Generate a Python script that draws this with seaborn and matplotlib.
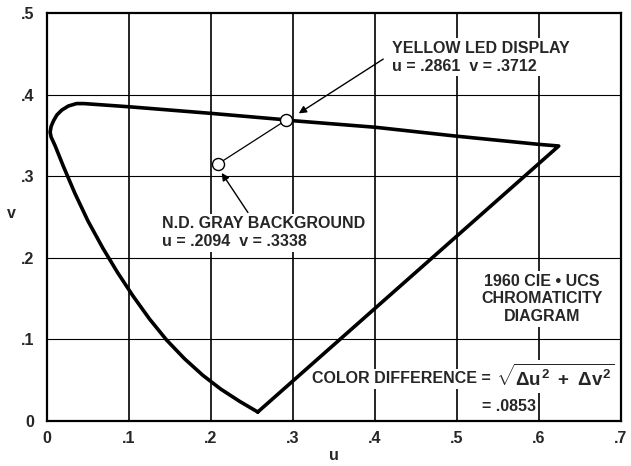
import numpy as np
import pandas as pd
import seaborn as sns
import matplotlib.pyplot as plt

# spectral locus + line of purples (u, v)
locus_u = [0.257, 0.235, 0.212, 0.190, 0.168, 0.146, 0.125, 0.105, 0.086, 0.068,
           0.050, 0.034, 0.020, 0.010, 0.005, 0.0038, 0.005, 0.008, 0.012, 0.018,
           0.026, 0.036, 0.045, 0.101, 0.200, 0.292, 0.300, 0.400, 0.500, 0.600,
           0.624, 0.257]
locus_v = [0.011, 0.024, 0.039, 0.056, 0.076, 0.099, 0.125, 0.153, 0.182, 0.212,
           0.245, 0.279, 0.312, 0.337, 0.348, 0.354, 0.361, 0.368, 0.375, 0.381,
           0.386, 0.389, 0.389, 0.385, 0.377, 0.369, 0.368, 0.360, 0.349, 0.339,
           0.337, 0.011]

# the two marked points (where they sit on the drawing)
point_names = ["N.D. GRAY BACKGROUND", "YELLOW LED DISPLAY"]
point_u = [0.2085, 0.292]
point_v = [0.315, 0.369]
point_text = ["u = .2094  v = .3338", "u = .2861  v = .3712"]

diagram_title = "1960 CIE \u2022 UCS\nCHROMATICITY\nDIAGRAM"
color_diff = ".0853"

x_ticks = [0, 0.1, 0.2, 0.3, 0.4, 0.5, 0.6, 0.7]
x_labels = ["0", ".1", ".2", ".3", ".4", ".5", ".6", ".7"]
y_ticks = [0, 0.1, 0.2, 0.3, 0.4, 0.5]
y_labels = ["0", ".1", ".2", ".3", ".4", ".5"]

sns.set_theme(style="white")
plt.rcParams["font.family"] = ["Liberation Sans", "DejaVu Sans"]
plt.rcParams["font.weight"] = "bold"
plt.rcParams["mathtext.fontset"] = "custom"
plt.rcParams["mathtext.rm"] = "Liberation Sans:bold"
plt.rcParams["mathtext.it"] = "Liberation Sans:bold"
plt.rcParams["mathtext.bf"] = "Liberation Sans:bold"

fs = 11.5

fig = plt.figure(figsize=(6.31, 4.66), dpi=100)
ax = fig.add_axes([0.0745, 0.0966, 0.9097, 0.8755])

locus = pd.DataFrame({"u": locus_u, "v": locus_v})
sns.lineplot(data=locus, x="u", y="v", sort=False, estimator=None,
             color="black", lw=2.6, ax=ax, zorder=4)
ax.lines[-1].set_solid_joinstyle("round")

# line joining the two points
ax.plot(point_u, point_v, color="black", lw=0.9, zorder=3)
pts = pd.DataFrame({"u": point_u, "v": point_v, "name": point_names})
sns.scatterplot(data=pts, x="u", y="v", s=75, color="white",
                edgecolor="black", linewidth=1.0, ax=ax, zorder=5, legend=False)

# grid
for xv in x_ticks[1:-1]:
    ax.axvline(xv, color="black", lw=1.2, zorder=0.5)
for yv in y_ticks[1:-1]:
    ax.axhline(yv, color="black", lw=0.8, zorder=0.5)

ax.set_xlim(0, 0.7)
ax.set_ylim(0, 0.5)
ax.set_xticks(x_ticks)
ax.set_xticklabels(x_labels)
ax.set_yticks(y_ticks)
ax.set_yticklabels(y_labels)
ax.tick_params(axis="both", length=0, labelsize=fs)
ax.tick_params(axis="x", pad=7)
ax.tick_params(axis="y", pad=9)
for sp in ax.spines.values():
    sp.set_visible(True)
    sp.set_color("black")
    sp.set_linewidth(1.6)

ax.set_xlabel("u", fontsize=fs, fontweight="bold", labelpad=2)
ax.set_ylabel("v", fontsize=fs, fontweight="bold", rotation=0)
ax.yaxis.set_label_coords(-0.062, 0.49)

box = dict(facecolor="white", edgecolor="none", pad=2)

ax.text(0.4207, 0.446, point_names[1] + "\n" + point_text[1], ha="left",
        va="center", fontsize=fs, fontweight="bold", linespacing=1.25,
        bbox=box, zorder=2)
ax.annotate("", xy=(0.307, 0.377), xytext=(0.41, 0.4435),
            arrowprops=dict(arrowstyle="-|>", color="black", lw=1.0,
                            mutation_scale=11, shrinkA=0, shrinkB=0), zorder=3)

ax.text(0.140, 0.2304, point_names[0] + "\n" + point_text[0], ha="left",
        va="center", fontsize=fs, fontweight="bold", linespacing=1.25,
        bbox=box, zorder=2)
ax.annotate("", xy=(0.213, 0.304), xytext=(0.245, 0.2555),
            arrowprops=dict(arrowstyle="-|>", color="black", lw=1.0,
                            mutation_scale=11, shrinkA=0, shrinkB=0), zorder=3)

ax.text(0.6037, 0.1495, diagram_title, ha="center", va="center", fontsize=fs,
        fontweight="bold", linespacing=1.2, bbox=box, zorder=2)

ax.text(0.3228, 0.0515, "COLOR DIFFERENCE =",
        ha="left", va="center", fontsize=fs, fontweight="bold",
        bbox=box, zorder=2)
ax.text(0.547, 0.0545, r"$\sqrt{\Delta u^2\ +\ \Delta v^2}$",
        ha="left", va="center", fontsize=13.5, fontweight="bold",
        bbox=box, zorder=2)
ax.text(0.530, 0.0175, "= " + color_diff, ha="left", va="center", fontsize=fs,
        fontweight="bold", bbox=box, zorder=2)

fig.savefig("out.png", dpi=100)
